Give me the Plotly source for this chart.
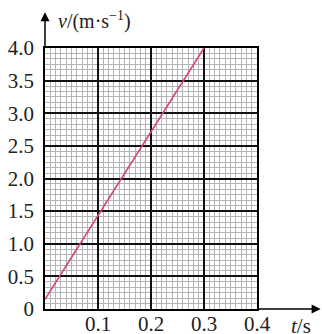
import plotly.graph_objects as go

# data
t_values = [0.0, 0.3]
v_values = [0.15, 4.0]

x_ticks = [0.1, 0.2, 0.3, 0.4]
x_labels = ["0.1", "0.2", "0.3", "0.4"]
y_ticks = [0, 0.5, 1.0, 1.5, 2.0, 2.5, 3.0, 3.5, 4.0]
y_labels = ["0", "0.5", "1.0", "1.5", "2.0", "2.5", "3.0", "3.5", "4.0"]

FONT = "Liberation Serif"

fig = go.Figure()
fig.add_trace(go.Scatter(x=t_values, y=v_values, mode="lines",
                         line=dict(color="#d2457c", width=1.6),
                         showlegend=False, hoverinfo="skip"))

fig.update_xaxes(range=[0, 0.4], tickvals=x_ticks, ticktext=x_labels,
                 showgrid=True, gridcolor="#111111", gridwidth=1.5,
                 minor=dict(dtick=0.01, tick0=0, showgrid=True,
                            gridcolor="#b4b4b4", gridwidth=1),
                 showline=True, linecolor="#000000", linewidth=1.5, mirror=True,
                 zeroline=False, ticks="", ticklen=0, ticklabelstandoff=-5, automargin=False,
                 tickfont=dict(family=FONT, size=21, color="#222222"))
fig.update_yaxes(range=[0, 4.0], tickvals=y_ticks, ticktext=y_labels,
                 showgrid=True, gridcolor="#111111", gridwidth=1.5,
                 minor=dict(dtick=0.5 / 6, tick0=0, showgrid=True,
                            gridcolor="#b4b4b4", gridwidth=1),
                 showline=True, linecolor="#000000", linewidth=1.5, mirror=True,
                 zeroline=False, ticks="", ticklabelstandoff=5, automargin=False,
                 tickfont=dict(family=FONT, size=21, color="#222222"))

# axis arrows
fig.add_annotation(xref="paper", yref="paper", x=1.30, y=0, axref="pixel", ayref="pixel",
                   ax=-64, ay=0, text="", showarrow=True, arrowhead=2,
                   arrowsize=1.2, arrowwidth=1.5, arrowcolor="#000000")
fig.add_annotation(xref="paper", yref="paper", x=0, y=1.137, axref="pixel", ayref="pixel",
                   ax=0, ay=36, text="", showarrow=True, arrowhead=2,
                   arrowsize=1.2, arrowwidth=1.5, arrowcolor="#000000")

# axis titles
fig.add_annotation(xref="paper", yref="paper", x=0.05, y=1.09, xanchor="left", yanchor="middle",
                   yshift=4, text="<i>v</i>/(m·s<sup>−1</sup>)", showarrow=False,
                   font=dict(family=FONT, size=20, color="#222222"))
fig.add_annotation(xref="paper", yref="paper", x=1.265, y=-0.064, xanchor="right", yanchor="middle",
                   text="<i>t</i>/s", showarrow=False,
                   font=dict(family=FONT, size=21, color="#222222"))

fig.update_layout(width=322, height=334, margin=dict(l=45, r=65, t=48, b=25),
                  paper_bgcolor="white", plot_bgcolor="white")

fig.write_html("out.html", config={"displayModeBar": False},
               post_script="document.body.style.margin='0';document.body.style.overflow='hidden';")
